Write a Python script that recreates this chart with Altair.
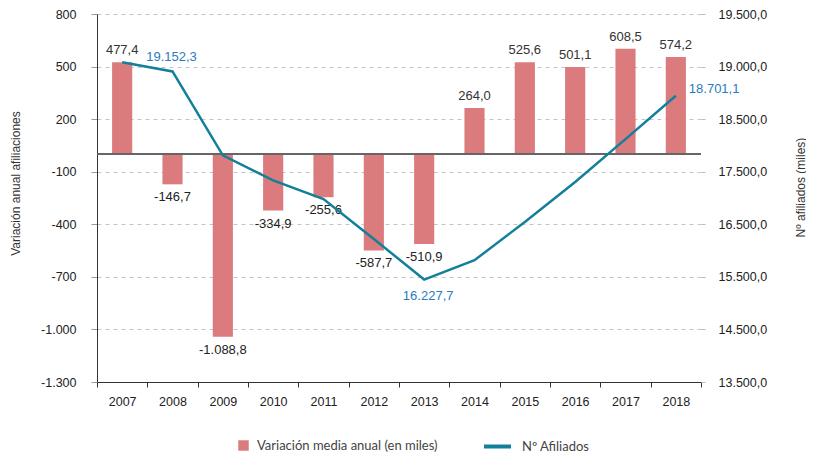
import altair as alt
import pandas as pd

# ---------------- data ----------------
anios = ["2007", "2008", "2009", "2010", "2011", "2012",
         "2013", "2014", "2015", "2016", "2017", "2018"]
variacion = [525, -172, -1042, -322, -246, -549, -513, 264, 525, 497, 601, 555]
etiquetas_variacion = ["477,4", "-146,7", "-1.088,8", "-334,9", "-255,6", "-587,7",
                       "-510,9", "264,0", "525,6", "501,1", "608,5", "574,2"]
afiliados = [19152.3, 19027, 17898, 17563, 17311, 16774,
             16227.7, 16488, 17003, 17540, 18117, 18701.1]
etiquetas_afiliados = ["19.152,3", "", "", "", "", "", "16.227,7", "", "", "", "", "18.701,1"]

izq_ticks = [-1300, -1000, -700, -400, -100, 200, 500, 800]
izq_dominio = [-1300, 800]
der_etiquetas = ["13.500,0", "14.500,0", "15.500,0", "16.500,0",
                 "17.500,0", "18.500,0", "19.000,0", "19.500,0"]
der_dominio = [14850, 19800]

serie_barras = "Variación media anual (en miles)"
serie_linea = "Nº Afiliados"

# ---------------- styling ----------------
COLOR_BARRA = "#dc7b7d"
COLOR_LINEA = "#13809b"
COLOR_ETQ_LINEA = "#2a7bbf"
FONT = "Liberation Sans"

df = pd.DataFrame({
    "anio": anios,
    "variacion": variacion,
    "etq_var": etiquetas_variacion,
    "afiliados": afiliados,
    "etq_af": etiquetas_afiliados,
    "serie_b": serie_barras,
    "serie_l": serie_linea,
})

n_int = len(der_etiquetas) - 1
der_paso = (der_dominio[1] - der_dominio[0]) / n_int
der_ticks = [der_dominio[0] + k * der_paso for k in range(len(der_etiquetas))]
der_label_expr = "[" + ",".join("'%s'" % s for s in der_etiquetas) + "]" + \
    "[round((datum.value - %s) / %s)]" % (der_dominio[0], der_paso)

x_enc = alt.X(
    "anio:O",
    scale=alt.Scale(paddingInner=0, paddingOuter=0),
    axis=alt.Axis(title=None, labelAngle=0, tickBand="extent", grid=False,
                  domainColor="#333333", tickColor="#333333", tickSize=5,
                  labelPadding=8, labelFontSize=12.5, labelColor="#222222",
                  labelFont=FONT),
)

y_izq = alt.Y(
    "variacion:Q",
    scale=alt.Scale(domain=izq_dominio, nice=False, zero=False),
    axis=alt.Axis(values=izq_ticks, grid=True, gridDash=[4, 4], gridColor="#c4c4c4",
                  labelExpr="(datum.value < 0 ? '-' : '') + replace(format(abs(datum.value), ','), ',', '.')",
                  title="Variación anual afiliaciones", titleAngle=270, titleX=-82, titleY=169,
                  titleAlign="center", titleBaseline="middle",
                  titleFontSize=12, titleFontWeight="normal", titleColor="#333333", titleFont=FONT,
                  domainColor="#333333", tickColor="#999999", tickSize=6, labelPadding=15,
                  labelFontSize=12.5, labelColor="#222222", labelFont=FONT),
)

barras = alt.Chart(df).mark_bar(width={"band": 0.4}).encode(
    x=x_enc,
    y=y_izq,
    color=alt.Color("serie_b:N", scale=alt.Scale(domain=[serie_barras], range=[COLOR_BARRA]),
                    legend=alt.Legend(title=None, orient="none", legendX=140, legendY=425,
                                      symbolType="square", symbolSize=110, symbolStrokeWidth=0,
                                      labelOffset=7, labelFont="Lato", labelFontSize=13,
                                      labelLimit=0, labelColor="#444444", padding=0)),
)

cero = alt.Chart(df).mark_rule(color="#666666", strokeWidth=1.2).encode(
    y=alt.datum(0)
)

txt_pos = alt.Chart(df).transform_filter("datum.variacion > 0").mark_text(
    font=FONT, fontSize=13, color="#333333", baseline="middle", dy=-12
).encode(x=x_enc, y=alt.Y("variacion:Q"), text="etq_var:N")

txt_neg = alt.Chart(df).transform_filter("datum.variacion < 0").mark_text(
    font=FONT, fontSize=13, color="#222222", baseline="middle", dy=13
).encode(x=x_enc, y=alt.Y("variacion:Q"), text="etq_var:N")

izquierda = alt.layer(barras, cero, txt_pos, txt_neg)

y_der = alt.Y(
    "afiliados:Q",
    scale=alt.Scale(domain=der_dominio, nice=False, zero=False),
    axis=alt.Axis(orient="right", values=der_ticks, labelExpr=der_label_expr, grid=False,
                  domain=False, tickColor="#bbbbbb", tickSize=4, labelPadding=13,
                  labelFontSize=12.5, labelColor="#222222", labelFont=FONT,
                  title="Nº afiliados (miles)", titleAngle=270, titleX=99, titleY=173,
                  titleAlign="center", titleBaseline="middle",
                  titleFontSize=12, titleFontWeight="normal", titleColor="#333333", titleFont=FONT),
)

linea = alt.Chart(df).mark_line(strokeWidth=2.5).encode(
    x=x_enc,
    y=y_der,
    stroke=alt.Stroke("serie_l:N", scale=alt.Scale(domain=[serie_linea], range=[COLOR_LINEA]),
                      legend=alt.Legend(title=None, orient="none", legendX=385, legendY=417,
                                        symbolType="stroke", symbolSize=729, symbolStrokeWidth=4,
                                        labelOffset=9, labelFont="Lato", labelFontSize=13,
                                        labelLimit=0, labelColor="#444444", padding=0)),
)

def etq_linea(anio, align, dx, dy):
    return alt.Chart(df).transform_filter("datum.anio == '%s'" % anio).mark_text(
        font=FONT, fontSize=13, color=COLOR_ETQ_LINEA, align=align, baseline="middle", dx=dx, dy=dy
    ).encode(x=x_enc, y=alt.Y("afiliados:Q"), text="etq_af:N")

derecha = alt.layer(
    linea,
    etq_linea("2007", "left", 24, -5),
    etq_linea("2013", "center", 4, 16),
    etq_linea("2018", "left", 13, -7),
)

chart = alt.layer(izquierda, derecha).resolve_scale(
    y="independent", color="independent", stroke="independent"
).properties(
    width=604, height=368,
    autosize=alt.AutoSizeParams(type="none"),
    padding={"left": 89, "top": 6, "right": 105, "bottom": 72},
    background="white",
).configure_view(stroke=None)

chart.save("out.html", embed_options={"renderer": "svg", "actions": False})
